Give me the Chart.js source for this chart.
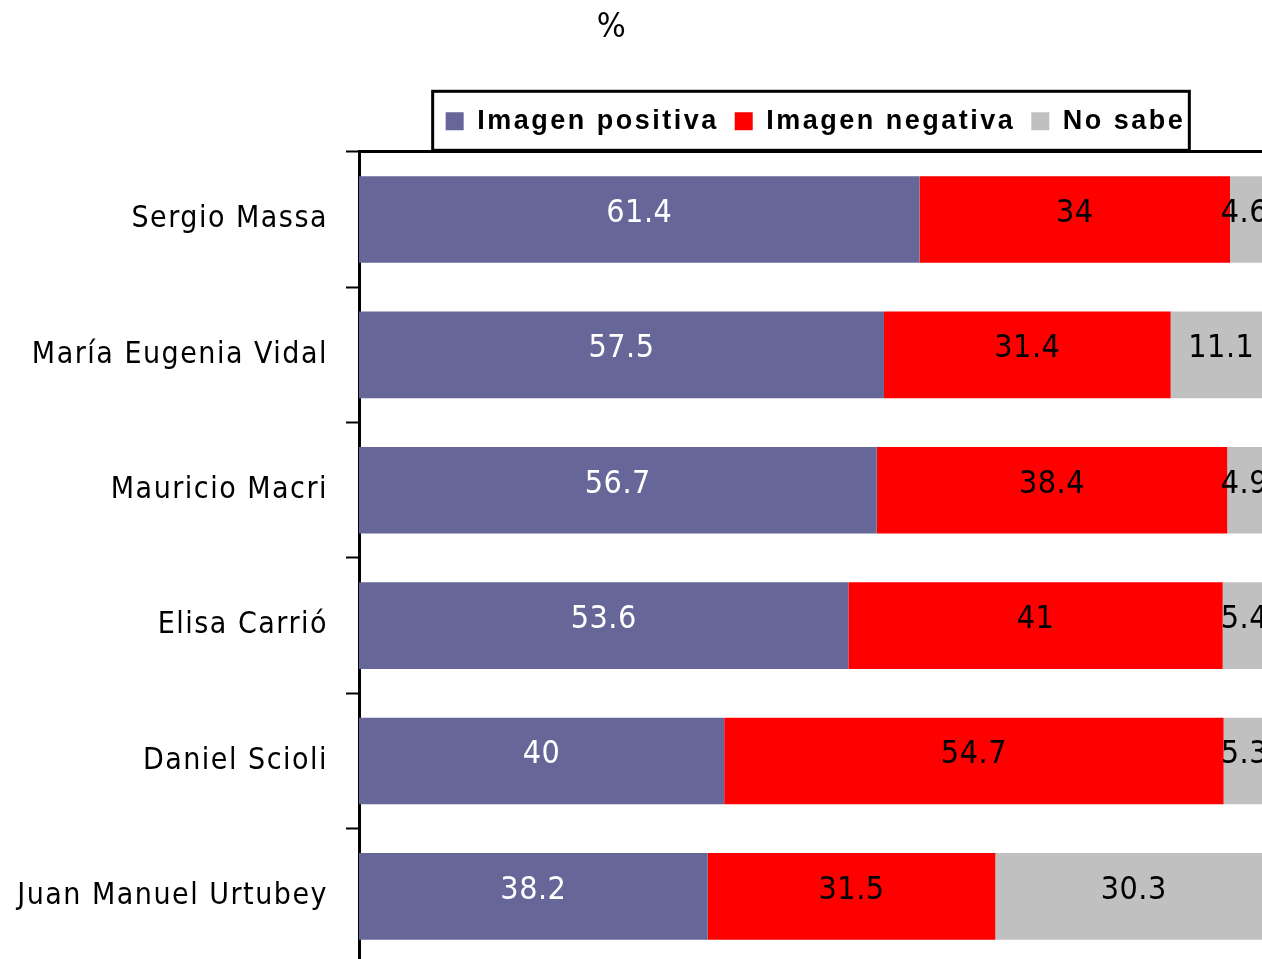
<!DOCTYPE html>
<html>
<head>
<meta charset="utf-8">
<script src="https://cdn.jsdelivr.net/npm/chart.js@4"></script>
<style>
  html, body { margin: 0; padding: 0; background: #fff; overflow: hidden; }
  #wrap { width: 1272px; height: 964px; }
</style>
</head>
<body>
<div id="wrap"><canvas id="chart" width="1272" height="964"></canvas></div>
<script>
// datos
const categories = ["Sergio Massa", "María Eugenia Vidal", "Mauricio Macri", "Elisa Carrió", "Daniel Scioli", "Juan Manuel Urtubey"];
const positiva = [61.4, 57.5, 56.7, 53.6, 40, 38.2];
const negativa = [34, 31.4, 38.4, 41, 54.7, 31.5];
const noSabe = [4.6, 11.1, 4.9, 5.4, 5.3, 30.3];
const seriesNames = ["Imagen positiva", "Imagen negativa", "No sabe"];

const colors = ['#666699', '#ff0000', '#c0c0c0'];
const labelColors = ['#ffffff', '#000000', '#000000'];

// espaciado de letras para la leyenda y borde alrededor
const legendPlugin = {
    id: 'legendExtra',
    afterInit(chart) {
        const lg = chart.legend;
        const fit = lg.fit.bind(lg);
        const draw = lg.draw.bind(lg);
        lg.fit = function() {
            chart.ctx.save();
            chart.ctx.letterSpacing = '2.5px';
            fit();
            chart.ctx.restore();
        };
        lg.draw = function() {
            chart.ctx.save();
            chart.ctx.letterSpacing = '2.5px';
            draw();
            chart.ctx.restore();
        };
    },
    afterLayout(chart) {
        const lg = chart.legend;
        const area = chart.chartArea;
        lg.left = area.left;
        lg.right = area.right;
        lg.width = area.right - area.left;
        const t = chart.titleBlock;
        t.left = 0;
        t.right = 1224;
        t.width = 1224;
    },
    beforeDraw(chart) {
        chart.ctx.letterSpacing = '1.5px';
    },
    afterDraw(chart) {
        const boxes = chart.legend.legendHitBoxes;
        if (!boxes || !boxes.length) return;
        const ctx = chart.ctx;
        const left = boxes[0].left - 13;
        const last = boxes[boxes.length - 1];
        const right = last.left + last.width + 4;
        const top = boxes[0].top + boxes[0].height / 2 - 30;
        ctx.save();
        ctx.strokeStyle = '#000';
        ctx.lineWidth = 3;
        ctx.strokeRect(left, top, right - left, 59);
        ctx.restore();
    }
};

// etiquetas de valores en el centro de cada segmento
const valueLabels = {
    id: 'valueLabels',
    afterDatasetsDraw(chart) {
        const ctx = chart.ctx;
        ctx.save();
        ctx.font = '32px "DejaVu Sans Condensed"';
        ctx.letterSpacing = '0.5px';
        ctx.textAlign = 'center';
        ctx.textBaseline = 'middle';
        chart.data.datasets.forEach(function(ds, i) {
            const meta = chart.getDatasetMeta(i);
            meta.data.forEach(function(bar, j) {
                const p = bar.getProps(['x', 'y', 'base'], true);
                const txt = String(ds.data[j]);
                const w = ctx.measureText(txt).width;
                let cx = (p.x + p.base) / 2;
                if (cx + w / 2 > 1268) cx = 1268 - w / 2;
                ctx.fillStyle = labelColors[i];
                ctx.fillText(txt, cx, p.y - 6);
            });
        });
        ctx.restore();
    }
};

const ctx = document.getElementById('chart').getContext('2d');
const chart = new Chart(ctx, {
    type: 'bar',
    data: {
        labels: categories,
        datasets: [
            { label: seriesNames[0], data: positiva, backgroundColor: colors[0] },
            { label: seriesNames[1], data: negativa, backgroundColor: colors[1] },
            { label: seriesNames[2], data: noSabe, backgroundColor: colors[2] }
        ]
    },
    options: {
        responsive: false,
        animation: false,
        indexAxis: 'y',
        categoryPercentage: 0.64,
        barPercentage: 1,
        layout: { padding: { top: 8, left: 0, right: 0, bottom: 0 } },
        plugins: {
            title: {
                display: true,
                text: '%',
                color: '#000',
                font: { family: 'DejaVu Sans Condensed', size: 34, weight: 'normal' },
                padding: { top: 0, bottom: 43 }
            },
            legend: {
                display: true,
                position: 'top',
                labels: {
                    color: '#000',
                    font: { family: 'Liberation Sans', size: 27, weight: 'bold' },
                    boxWidth: 18,
                    boxHeight: 18,
                    padding: 16
                }
            },
            tooltip: { enabled: false }
        },
        scales: {
            x: {
                stacked: true,
                position: 'top',
                min: 0,
                max: 100,
                ticks: { display: false },
                grid: { display: false, drawTicks: false },
                border: { display: true, color: '#000', width: 3 },
                afterFit: function(scale) { scale.height = 7; }
            },
            y: {
                stacked: true,
                ticks: {
                    color: '#000',
                    font: { family: 'DejaVu Sans Condensed', size: 30 },
                    padding: 18
                },
                grid: {
                    offset: true,
                    drawOnChartArea: false,
                    tickLength: 13,
                    tickColor: '#000',
                    tickWidth: 2
                },
                border: { color: '#000', width: 3 },
                afterFit: function(scale) {
                    scale.width = 359;
                    scale.paddingTop = 0;
                    scale.paddingBottom = 0;
                }
            }
        }
    },
    plugins: [legendPlugin, valueLabels]
});
</script>
</body>
</html>
